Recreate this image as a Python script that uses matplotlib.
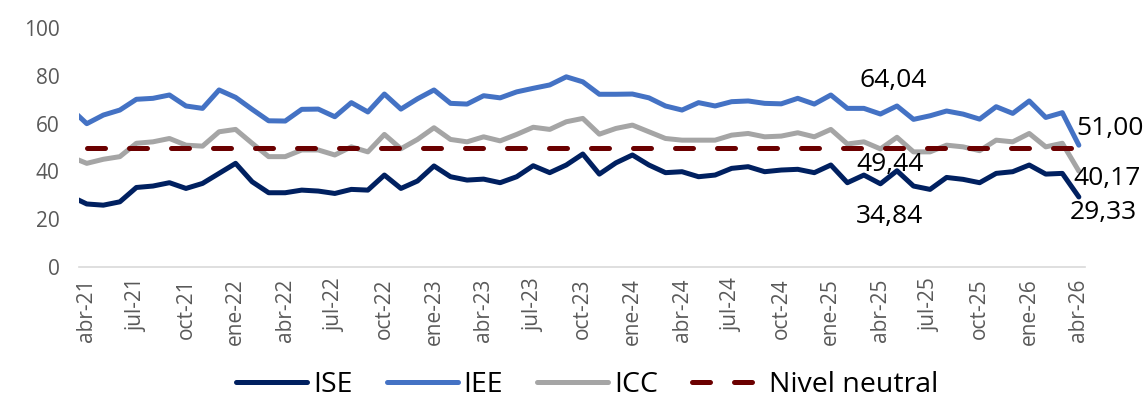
import matplotlib.pyplot as plt

plt.rcParams['font.family'] = ['Open Sans', 'DejaVu Sans']

# Meses (mar-21 a abr-26); mar-21 queda recortado en el borde izquierdo
meses_nombre = ['ene', 'feb', 'mar', 'abr', 'may', 'jun',
                'jul', 'ago', 'sep', 'oct', 'nov', 'dic']
fechas = []
for anio in range(21, 27):
    for m in meses_nombre:
        fechas.append(f"{m}-{anio}")
fechas = fechas[fechas.index('mar-21'):fechas.index('abr-26') + 1]

ise = [29.7, 26.4, 25.9, 27.3, 33.3, 33.9, 35.3, 32.9, 35.0, 39.2, 43.4,
       35.7, 31.1, 31.1, 32.2, 31.8, 30.8, 32.5, 32.2, 38.5, 32.9, 36.0,
       42.3, 37.8, 36.4, 36.8, 35.3, 37.8, 42.4, 39.5, 42.7, 47.3, 38.9,
       43.6, 46.9, 42.7, 39.5, 39.9, 37.8, 38.5, 41.3, 42.0, 39.9, 40.6,
       40.9, 39.5, 42.7, 35.3, 38.5, 34.84, 40.3, 33.9, 32.5, 37.5, 36.7,
       35.3, 39.2, 39.9, 42.7, 38.9, 39.2, 29.33]
iee = [66.5, 60.0, 63.6, 65.7, 70.2, 70.6, 72.0, 67.4, 66.4, 74.1, 71.0,
       66.0, 61.2, 61.1, 66.0, 66.1, 62.9, 68.8, 64.9, 72.4, 66.1, 70.4,
       74.1, 68.5, 68.2, 71.7, 70.8, 73.3, 74.8, 76.2, 79.6, 77.5, 72.3,
       72.3, 72.4, 70.8, 67.4, 65.7, 68.8, 67.4, 69.2, 69.5, 68.5, 68.3,
       70.6, 68.2, 72.0, 66.4, 66.4, 64.04, 67.4, 61.8, 63.3, 65.3, 64.0,
       61.9, 67.1, 64.3, 69.5, 62.6, 64.6, 51.00]
icc = [46.2, 43.4, 45.1, 46.2, 51.8, 52.4, 53.8, 51.0, 50.6, 56.6, 57.6,
       51.8, 46.2, 46.2, 49.0, 49.0, 46.9, 50.3, 48.2, 55.5, 49.5, 53.4,
       58.3, 53.4, 52.4, 54.5, 52.8, 55.5, 58.5, 57.6, 60.8, 62.2, 55.6,
       58.0, 59.4, 56.6, 53.8, 53.1, 53.1, 53.1, 55.2, 55.9, 54.5, 54.8,
       56.2, 54.5, 57.6, 51.5, 52.4, 49.44, 54.3, 48.2, 48.2, 51.0, 50.3,
       48.7, 53.1, 52.4, 55.9, 50.3, 51.8, 40.17]
nivel_neutral = 50

x = list(range(-1, len(fechas) - 1))  # abr-21 en 0
x_neutral = x[1:]

fig = plt.figure(figsize=(11.45, 4.01), dpi=100)
ax = fig.add_axes([0.069, 0.334, 0.879, 0.596])

ax.plot(x, ise, color='#002060', lw=3.6, solid_capstyle='round', solid_joinstyle='round', label='ISE')
ax.plot(x, iee, color='#4472C4', lw=3.6, solid_capstyle='round', solid_joinstyle='round', label='IEE')
ax.plot(x, icc, color='#A5A5A5', lw=3.6, solid_capstyle='round', solid_joinstyle='round', label='ICC')
ax.plot(x_neutral, [nivel_neutral] * len(x_neutral), color='#6B0000', lw=3.6,
        dashes=(3.6, 4.8), dash_capstyle='round', label='Nivel neutral')

# Etiquetas de datos (abr-25 y abr-26)
i25 = fechas.index('abr-25')
i26 = fechas.index('abr-26')
etiquetas = [
    (iee, i25, (13, 34)), (icc, i25, (10, -16)), (ise, i25, (9, -33)),
    (iee, i26, (31, 17)), (icc, i26, (28, -7)), (ise, i26, (24, -16)),
]
for serie, i, off in etiquetas:
    ax.annotate(f"{serie[i]:.2f}".replace('.', ','), (x[i], serie[i]),
                xytext=off, textcoords='offset pixels', ha='center', va='center',
                fontsize=19, color='black', annotation_clip=False)

ax.set_ylim(0, 100)
ax.set_yticks(range(0, 101, 20))
ax.set_xlim(-0.47, 60.4)
ticks = [i for i in range(0, 61, 3)]
ax.set_xticks(ticks)
ax.set_xticklabels([fechas[i + 1] for i in ticks], rotation=90)

for s in ['top', 'right', 'left']:
    ax.spines[s].set_visible(False)
ax.spines['bottom'].set_color('#D9D9D9')
ax.spines['bottom'].set_linewidth(1.2)
ax.tick_params(axis='both', length=0, labelsize=15, colors='#595959')
ax.tick_params(axis='x', pad=8)
ax.tick_params(axis='y', pad=14)

fig.legend(loc='lower center', bbox_to_anchor=(0.513, -0.058), ncol=4, frameon=False,
           fontsize=20.5, handlelength=2.5, columnspacing=1.2, handletextpad=0.2)

plt.savefig('out.png', dpi=100)
